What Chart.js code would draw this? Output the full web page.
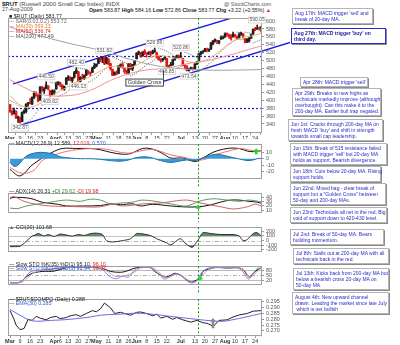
<!DOCTYPE html>
<html lang="en">
<head>
<meta charset="UTF-8" />
<title>$RUT Russell 2000 Small Cap Index</title>
<script src="https://cdn.jsdelivr.net/npm/chart.js"></script>
<style>
  body { margin: 0; background: #fff; font-family: 'Liberation Sans', Arial, sans-serif; }
  #wrap { position: relative; width: 400px; height: 345px; overflow: hidden; background: #fff; }
  canvas { position: absolute; left: 0; }
  .t { position: absolute; white-space: nowrap; font-size: 5.3px; line-height: 5px; color: #222; }
  .note { position: absolute; background: #fff; border: 1px solid #b4b4b4; box-shadow: 1px 1px 0 #8c8c8c;
          color: #2a2ac4; font-size: 5px; line-height: 6.1px; padding: 1px 2px; white-space: nowrap; box-sizing: border-box; }
  .red { color: #e02020; } .blue { color: #2a5ad0; } .grn { color: #2a8a2a; } .org { color: #e08020; }
</style>
</head>
<body>
<div id="wrap">
  <!-- header -->
  <div class="t" style="left:2px;top:1px;font-size:6px;line-height:6px;"><b>$RUT</b> <span style="color:#444">(Russell 2000 Small Cap Index) INDX</span></div>
  <div class="t" style="left:2px;top:7px;color:#444">27-Aug-2009</div>
  <div class="t" style="left:224px;top:2px;color:#555">@ StockCharts.com</div>
  <div class="t" style="left:89px;top:8px;"><b>Open</b> 583.87 <b>High</b> 584.16 <b>Low</b> 572.86 <b>Close</b> 583.77 <b>Chg</b> +3.22 (+0.55%) <span class="red">&#9650;</span></div>

  <canvas id="price" width="290" height="126" style="top:13px"></canvas>
  <canvas id="macd" width="290" height="49" style="top:139px"></canvas>
  <canvas id="adx" width="290" height="34" style="top:188px"></canvas>
  <canvas id="cci" width="290" height="39" style="top:222px"></canvas>
  <canvas id="sto" width="290" height="33" style="top:261px"></canvas>
  <canvas id="ratio" width="290" height="51" style="top:294px"></canvas>

  <!-- panel legends -->
  <div class="t" style="left:9px;top:14px;">&#9632; $RUT (Daily) 583.77</div>
  <div class="t" style="left:9px;top:19px;color:#666">&#8943; SAR(0.02,0.2) 553.72</div>
  <div class="t org" style="left:9px;top:24px;">&#8212; MA(20) 569.13</div>
  <div class="t red" style="left:9px;top:29px;">&#8212; MA(50) 536.74</div>
  <div class="t" style="left:9px;top:34px;color:#555">&#8212; MA(200) 477.49</div>

  <div class="t" style="left:9px;top:141px;">&#8212; MACD(12,26,9) 12.589, <span class="red">12.019</span>, <span class="blue">0.570</span></div>
  <div class="t" style="left:9px;top:189px;">&#8212; ADX(14) 26.31 <span class="grn">+DI 29.62</span> <span class="red">-DI 19.98</span></div>
  <div class="t" style="left:9px;top:225px;"><span class="grn">&#9650;</span> CCI(20) 101.68</div>
  <div class="t" style="left:9px;top:262px;">&#8212; Slow STO %K(35) %D(1) 95.10, <span class="red">96.10</span></div>
  <div class="t blue" style="left:9px;top:266px;">&#8212; Slow STO %K(14) %D(3) 91.94, <span class="red">96.37</span></div>
  <div class="t" style="left:9px;top:297px;">&#8212; $RUT:$COMPQ (Daily) 0.288</div>
  <div class="t blue" style="left:9px;top:301px;">&#8212; EMA(30) 0.285</div>

  <!-- commentary boxes -->
  <div class="note" style="left:292px;top:8px;width:81px;">Aug 17th: MACD trigger 'sell' and<br>break of 20-day MA.</div>
  <div class="note" style="left:291px;top:28px;width:95px;border-color:#2a2ad0;color:#1a1a9a;font-weight:bold;">Aug 27th: MACD trigger 'buy' on<br>third day.</div>
  <div class="note" style="left:300px;top:77px;width:68px;">Apr 28th: MACD trigger 'sell'</div>
  <div class="note" style="left:292px;top:88px;width:89px;">Apr 29th: Breaks to new highs as<br>technicals markedly improve (although<br>overbought). Can this make it to the<br>200-day MA. Earlier bull trap negated.</div>
  <div class="note" style="left:288px;top:119px;width:95px;">Jun 1st: Cracks through 200-day MA on<br>fresh MACD 'buy' and shift in strength<br>towards small cap leadership.</div>
  <div class="note" style="left:290px;top:143px;width:97px;">Jun 15th: Break of 515 resistance failed<br>with MACD trigger 'sell' but 20-day MA<br>holds as support. Bearish divergence.</div>
  <div class="note" style="left:290px;top:166px;width:91px;">Jun 18th: Cuts below 20-day MA. Rising<br>support holds.</div>
  <div class="note" style="left:290px;top:183px;width:96px;">Jun 22nd: Mixed bag - clear break of<br>support but a "Golden Cross" between<br>50-day and 200-day MAs.</div>
  <div class="note" style="left:290px;top:207px;width:97px;">Jun 23rd: Technicals all net in the red. Big<br>void of support down to 420-430 level.</div>
  <div class="note" style="left:290px;top:229px;width:94px;">Jul 2nd: Break of 50-day MA. Bears<br>building momentum.</div>
  <div class="note" style="left:293px;top:248px;width:96px;">Jul 8th: Stalls out at 200-day MA with all<br>technicals back in the red.</div>
  <div class="note" style="left:293px;top:268px;width:96px;">Jul 13th: Kicks back from 200-day MA but<br>below a bearish cross 20-day MA on<br>50-day MA.</div>
  <div class="note" style="left:292px;top:292px;width:97px;">August 4th: New upward channel<br>drawn. Leading the market since late July<br>&nbsp;which is net bullish</div>
</div>

<script>
// ---- date axis (trading-day index, Mar 2 2009 = 0) ----
const dateTickIdx  = [0, 5, 10, 15, 22, 25, 29, 34, 39, 43, 49, 54, 59, 63, 68, 73, 78, 85, 92, 97, 102, 107, 112, 117, 122];
const dateTickText = ['Mar','9','16','23','Apr','6','13','20','27','May','11','18','26','Jun','8','15','22','Jul','13','20','27','Aug','10','17','24'];

// ---- $RUT daily OHLC ----
const opens = [389,372,366,372,356,354,346,370,372,391, 394,391,407,418,412,400,433,424,430,436,
  425,414,420,428,442,444,438,428,440,455, 457,450,458,470,472,448,457,456,464,472,
  468,470,482,487,493,505,505,508,495,503, 492,478,465,470,468,487,490,480,472,469,
  490,480,491,505,518,520,512,524,517,518, 522,518,523,520,509,502,502,506,505,486,
  488,490,502,510,512,510,505,487,486,475, 480,482,480,492,500,517,522,524,530,526,
  530,543,550,550,546,556,556,560,566,565, 563,560,565,560,556,567,568,555,547,550,
  557,568,580,580,581,583.87];
const highs = [389,375,380,373,360,358,370,376,391,395, 404,408,422,421,416,434,435,432,446.5,437,
  425,426,426,446,447,446,439,436,457,462, 460,458,473,482.4,473,460,466,464,478,475,
  472,484,494,492,507,507,510,511.8,509,506, 494,479,472,474,487,492,495,481,476,493,
  493,491,501,520,524,521,522,528,520,523, 524,527,531.7,521,512,505,506,510,506,488,
  496,504,510,514,515,520.9,506,488,487,480, 484,483,492,498,518,523,524,531,532,530,
  546,551,555,552,551,563,562,570,570,567, 566,572,567,562,570,572,569,556,556,558,
  567,580,584,590.05,585,584.2];
const lows = [369,362,365,354,344,342.6,346,366,368,385, 391,389,404,410,396,400,422,417,429,426,
  409.8,413,414,428,438,434,426,425,440,450, 449,445,456,467,446.1,446,454,452,462,466,
  462,470,480,484,492,497,495,490,492,490, 476,462,463,464,468,483,481,468,467,466,
  478,475,488,504,515,508,511,515,509,515, 511,517,521,507,501,496,498,503,485,481,
  487,488,501,506,505,509,488,480,474,473.5, 478,476,477,490,500,514,518,523,522,523,
  528,540,547,543,542,553,555,559,562,556, 552,560,559,553,555,564,557,545,546,547,
  556,566,576,579,577,572.86];
const closes = [371,364,375,355,355,343,370,373,390,393, 392,408,418,412,398,434,424,428,438,428,
  412,423,424,443,446,440,427,435,456,459, 451,457,470,476,449,458,455,463,476,469,
  467,481,487,491,506,502,507,492,507,492, 480,463,470,466,487,488,483,472,471,492,
  478,490,501,519,522,511,522,519,517,520, 517,523,525,509,502,501,504,508,486,485,
  490,503,509,512,508,509,488,487,475,479, 482,478,492,497,518,522,522,529,528,528,
  545,550,553,549,550,556,557,568,566,562, 556,567,563,555,566,570,561,546,554,557,
  566,580,578,582,580.55,583.77];

// parabolic SAR
const sar = [400,397,394,391,388,385,null,343,344,346, 350,355,361,368,375,380,387,393,398,404,
  446,445,444,443,410,412,414,417,420,424, 428,432,436,441,482,481,480,479,478,446,
  448,451,454,458,462,467,472,477,482,486, 512,510,508,505,503,500,498,496,494,492,
  462,464,466,469,474,478,482,486,490,493, 496,499,502,506,531.7,530,528,526,524,520,
  517,514,511,481,483,485,487,521,520,518, 515,513,510,508,473.5,476,480,484,488,492,
  496,501,507,513,518,523,528,532,537,541, 545,549,552,572,571,553,554,572,571,570,
  569,545,547,549,551,553.7];

// moving averages (sampled)
const ma20Idx = [0,5,10,16,22,28,34,40,45,50,55,60,65,70,75,80,85,90,95,100,105,110,115,120,125];
const ma20 = [412,388,382,395,415,432,448,460,474,485,484,483,494,508,513,508,504,496,497,508,527,546,558,562,569.13];
const ma50Idx = [0,8,16,30,40,50,60,70,76,90,100,110,120,125];
const ma50 = [452,430,414,412,425,450,468,478,479,494,502,515,530,536.74];
const ma200Idx = [0,10,20,30,40,47,60,70,80,90,100,110,125];
const ma200 = [585,570,556,543,532,523,503,490,482,478,476,476,477.49];

// price labels
const noteIdx  = [5, 20, 18, 33, 34, 47, 72, 85, 78, 89, 123];
const noteVal  = [342.6, 409.8, 446.5, 482.4, 446.1, 511.8, 531.7, 520.9, 485, 473.5, 590.05];
const noteText = ['342.87','409.82','446.50','482.40','446.13','531.82','526.86','520.86','466.85','473.54','590.05'];
const noteSide = [-1, -1, 1, 1, -1, 1, 1, 1, -1, -1, 1];

// trend channel + resistance / support
const chanUpIdx = [1.5, 125.4], chanUp = [441.2, 630.9];
const chanLoIdx = [5, 140], chanLo = [336.6, 546.7];
const levels = [513, 380];

// MACD (sampled)
const macdIdx = [0,5,11,16,21,26,33,40,45,50,56,60,66,71,76,80,86,92,96,101,108,114,118,121,125];
const macd    = [-17,-27,-10,1,10,16,16,16,14,10,7,8,16,15,8,1,1,-4.4,1,10,16,16,12,11,12.6];
const sigIdx  = [0,6,12,16,24,33,42,48,55,60,66,72,80,87,92,97,102,110,115,120,125];
const signal  = [-13.8,-23,-18,-3,8,14,16,15,10,9,13,14,6,2,-2,-1,6,13,16,13,12];
const histIdx = [0,2,4,6,8,11,15,19,22,25,30,35,40,45,50,55,59,62,66,70,72,75,80,84,88,92,95,98,103,108,112,115,118,121,123,125];
const hist    = [-6,-12,-10,-3,4,8,10,9,7,3,1,0,0,-1,-3,-4,-2,1,3,2,0,-3,-6,-4,-2,-3,0,4,7,4,1,-1,-3,-2,0,0.6];

// ADX / DI (sampled)
const adxIdx = [0,2,10,16,24,28,36,45,50,55,61,65,71,80,86,94,101,108,114,119,123,125];
const adx    = [38,40.5,38,29,24,20,20,21,25,23,25,20,24,20,18,18,24,33,34,31,29,26.31];
const mdiIdx = [0,2,7,13,20,28,36,45,51,56,61,66,75,81,88,94,98,105,111,118,122,125];
const mdi    = [40,42,31,24,20,19,18,18,24,20,22,25,27,31,34,28,24,18,13,18,24,19.98];
const pdiIdx = [0,4,8,20,28,35,40,45,50,55,61,66,75,81,88,94,101,108,114,119,125];
const pdi    = [15,14,20,29,34,31,36,34,25,27,29,34,29,24,20,31,37,34,31,34,29.62];

// CCI (sampled)
const cciIdx = [0,2,5,8,11,12,14,17,19,22,25,28,31,34,37,40,43,46,48,51,56,60,63,65,70,73,78,80,83,85,87,90,91,94,96,100,105,111,114,116,118,121,123,125];
const cci    = [-130,-130,-120,-20,100,110,150,100,130,90,140,120,95,130,110,150,160,130,0,-30,0,40,150,150,107,40,-50,-93,0,40,-50,-140,-140,40,170,150,130,130,100,0,20,150,170,101.68];

// Slow stochastics (sampled)
const stoKIdx = [0,5,8,11,16,22,28,35,42,46,48,50,55,58,63,70,72,75,77,80,82,85,87,90,92,95,96,100,103,108,113,116,118,119,122,125];
const stoK    = [7,10,40,62,73,75,95,98,97,90,83,73,68,75,95,95,73,51,40,51,62,51,29,12,18,40,73,90,98,93,95,84,51,40,73,95.1];
const stoFIdx = [0,5,7,10,14,20,28,35,42,46,48,50,53,56,59,62,65,70,72,75,77,80,83,86,89,91,93,95,98,102,108,113,116,118,119,121,123,125];
const stoF    = [5,8,30,70,80,85,97,95,98,85,60,40,30,45,40,80,97,95,80,45,28,45,60,40,10,5,20,60,90,97,92,96,70,35,28,60,90,91.94];
const stoDIdx = [0,5,8,11,15,28,42,46,49,52,55,58,62,65,71,74,76,79,82,86,89,92,95,98,102,110,114,117,119,121,124,125];
const stoD    = [6,9,25,60,78,96,97,88,70,45,45,50,70,93,94,70,45,38,55,45,20,10,40,78,95,94,95,75,40,50,85,96.1];

// $RUT:$COMPQ ratio (sampled)
const ratioIdx = [0,2,3,5,7,9,11,13,15,18,20,23,25,28,30,33,35,38,41,43,45,47,50,52,55,58,60,63,65,68,71,73,75,78,81,83,86,88,90,93,96,98,100,101,104,108,111,114,118,121,125];
const ratio    = [.2875,.280,.275,.271,.272,.280,.279,.2825,.281,.2795,.2815,.2825,.2805,.2815,.283,.284,.2825,.285,.2875,.2865,.289,.294,.290,.285,.286,.2845,.2835,.286,.2863,.285,.283,.2845,.281,.2825,.280,.2815,.2795,.2785,.2775,.279,.277,.2765,.275,.2735,.279,.2795,.282,.2837,.285,.287,.2875];
const emaIdx = [0,5,11,20,30,40,45,55,63,70,80,90,100,106,112,120,125];
const ema    = [.2885,.2835,.2787,.2790,.2800,.2820,.2835,.2845,.2852,.2845,.2825,.2805,.2787,.2783,.2800,.2830,.2850];

// markers
const markerIdx = 93.6;
const goldenIdx = 76, goldenVal = 475;

// ---- axis ticks ----
const priceTicks = [600,580,560,540,520,500,480,460,440,420,400,380,360,340];
const macdTicks = [10, 0, -10, -20];
const adxTicks = [40, 30, 20, 10];
const cciTicks = [200, 100, 0, -100, -200];
const stoTicks = [80, 50, 20];
const ratioTicks = [0.295, 0.290, 0.285, 0.280, 0.275, 0.270];

const X_MIN = -1, X_MAX = 125.4;

Chart.defaults.font.family = "'Liberation Sans', Arial, sans-serif";
Chart.defaults.font.size = 5.5;
Chart.defaults.color = '#444';
Chart.defaults.animation = false;
Chart.defaults.responsive = false;
Chart.defaults.plugins.legend.display = false;
Chart.defaults.plugins.tooltip.enabled = false;
Chart.defaults.elements.point.radius = 0;
Chart.defaults.elements.line.borderWidth = 1;

const pts = (idx, vals) => idx.map((x, k) => ({ x, y: vals[k] }));

function drawArrow(ctx, x, y0, y1, color) {
  const dir = y1 < y0 ? -1 : 1, head = 3.5, hw = 3, sw = 1.3;
  ctx.fillStyle = color;
  ctx.beginPath();
  ctx.moveTo(x - sw, y0);
  ctx.lineTo(x - sw, y1 - dir * head);
  ctx.lineTo(x - hw, y1 - dir * head);
  ctx.lineTo(x, y1);
  ctx.lineTo(x + hw, y1 - dir * head);
  ctx.lineTo(x + sw, y1 - dir * head);
  ctx.lineTo(x + sw, y0);
  ctx.closePath();
  ctx.fill();
}

const deco = {
  id: 'deco',
  beforeDatasetsDraw(chart, args, o) {
    const { ctx, chartArea: a, scales: { y } } = chart;
    ctx.save();
    (o.hlines || []).forEach(h => {
      const py = Math.round(y.getPixelForValue(h.v)) + 0.5;
      ctx.strokeStyle = h.color; ctx.lineWidth = h.w || 1; ctx.setLineDash(h.dash || []);
      ctx.beginPath(); ctx.moveTo(a.left, py); ctx.lineTo(a.right, py); ctx.stroke();
    });
    ctx.restore();
  },
  afterDatasetsDraw(chart, args, o) {
    const { ctx, chartArea: a, scales: { x, y } } = chart;
    ctx.save();
    // frame
    ctx.strokeStyle = '#a0a0a0'; ctx.lineWidth = 1;
    ctx.strokeRect(Math.round(a.left) + 0.5, Math.round(a.top) + 0.5, Math.round(a.width) - 1, Math.round(a.height) - 1);
    // price labels
    if (o.notes) {
      ctx.font = "5px 'Liberation Sans', Arial";
      ctx.textAlign = 'center'; ctx.textBaseline = 'middle';
      noteIdx.forEach((ix, k) => {
        const t = noteText[k], w = ctx.measureText(t).width + 2;
        const px = x.getPixelForValue(ix), py = y.getPixelForValue(noteVal[k]) + (noteSide[k] > 0 ? -5 : 5);
        ctx.fillStyle = '#fff'; ctx.fillRect(px - w / 2, py - 3, w, 6);
        ctx.strokeStyle = '#c4c4c4'; ctx.lineWidth = 0.6; ctx.strokeRect(px - w / 2, py - 3, w, 6);
        ctx.fillStyle = '#555'; ctx.fillText(t, px, py);
      });
      // golden cross callout
      const gx = Math.round(x.getPixelForValue(goldenIdx)) + 0.5, gy = y.getPixelForValue(goldenVal);
      ctx.strokeStyle = '#444'; ctx.lineWidth = 1;
      ctx.beginPath(); ctx.moveTo(gx, gy); ctx.lineTo(gx, gy + 8); ctx.stroke();
      ctx.font = "5.5px 'Liberation Sans', Arial";
      const gw = ctx.measureText('Golden Cross').width + 4;
      ctx.fillStyle = '#fff'; ctx.fillRect(gx - gw, gy + 8, gw, 7);
      ctx.strokeRect(gx - gw, gy + 8.5, gw, 7);
      ctx.fillStyle = '#333'; ctx.textAlign = 'left';
      ctx.fillText('Golden Cross', gx - gw + 2, gy + 12);
    }
    // vertical marker
    const vx = Math.round(x.getPixelForValue(markerIdx)) + 0.5;
    ctx.strokeStyle = '#109a10'; ctx.lineWidth = 1; ctx.setLineDash([2, 2]);
    ctx.beginPath(); ctx.moveTo(vx, a.top); ctx.lineTo(vx, o.toBottom ? chart.height : a.bottom); ctx.stroke();
    ctx.setLineDash([]);
    (o.arrows || []).forEach(ar => drawArrow(ctx, x.getPixelForValue(ar.x), y.getPixelForValue(ar.from), y.getPixelForValue(ar.to), ar.color));
    ctx.restore();
  }
};
Chart.register(deco);

function yAxis(min, max, ticks, fmt) {
  return {
    type: 'linear', position: 'right', min, max,
    afterFit: s => { s.width = 28; },
    afterBuildTicks: s => { s.ticks = ticks.map(v => ({ value: v })); },
    ticks: { autoSkip: false, padding: 2, color: '#555', callback: v => fmt ? fmt(v) : v },
    grid: { drawOnChartArea: false, tickLength: 2, color: '#999' },
    border: { display: false }
  };
}
function xAxis(show) {
  return {
    type: 'linear', min: X_MIN, max: X_MAX, offset: false, display: show,
    afterFit: s => { s.height = show === 'top' ? 6 : 9; },
    afterBuildTicks: s => { s.ticks = dateTickIdx.map(v => ({ value: v })); },
    ticks: {
      autoSkip: false, maxRotation: 0, padding: 0, color: '#333',
      callback: v => dateTickText[dateTickIdx.indexOf(v)],
      font: c => ({ size: 5.5, weight: /^[A-Z]/.test(dateTickText[c.index] || '') ? 'bold' : 'normal' })
    },
    grid: { drawOnChartArea: false, tickLength: 2, color: '#999' },
    border: { display: false }
  };
}
const layout = { padding: { left: 8, right: 0, top: 0, bottom: 0 } };
const smooth = (label, idx, vals, color, extra) => Object.assign({ type: 'line', label, data: pts(idx, vals), borderColor: color, tension: 0.35 }, extra || {});

// ---- price panel ----
const candleColor = closes.map((c, i) => c < (i ? closes[i - 1] : opens[0]) ? '#e01818' : '#202020');
const days = closes.map((c, i) => i);
new Chart(document.getElementById('price'), {
  type: 'bar',
  data: { datasets: [
    { label: 'MA200', type: 'line', data: pts(ma200Idx, ma200), borderColor: '#a0a0a0', tension: 0.4 },
    { label: 'MA50', type: 'line', data: pts(ma50Idx, ma50), borderColor: '#f29090', tension: 0.4 },
    { label: 'MA20', type: 'line', data: pts(ma20Idx, ma20), borderColor: '#edb070', tension: 0.4 },
    { label: 'SAR', type: 'line', data: pts(days, sar), showLine: false, pointRadius: 0.6, pointBackgroundColor: '#777', pointBorderWidth: 0 },
    { label: 'range', data: days.map(i => ({ x: i, y: [lows[i], highs[i]] })), backgroundColor: candleColor, barThickness: 1, grouped: false },
    { label: 'body', data: days.map(i => ({ x: i, y: [opens[i], closes[i]] })), backgroundColor: candleColor, barThickness: 2, minBarLength: 1, grouped: false },
    { label: 'chanUp', type: 'line', data: pts(chanUpIdx, chanUp), borderColor: '#1a1ae0', borderWidth: 1.4 },
    { label: 'chanLo', type: 'line', data: pts(chanLoIdx, chanLo), borderColor: '#1a1ae0', borderWidth: 1.4, clip: false }
  ] },
  options: {
    layout,
    scales: { x: xAxis('top'), y: yAxis(317.25, 607, priceTicks) },
    plugins: { deco: { notes: true, toBottom: true,
      hlines: levels.map(v => ({ v, color: '#2020e0', w: 1.2, dash: [2, 2] })) } }
  }
});

// ---- MACD ----
new Chart(document.getElementById('macd'), {
  type: 'line',
  data: { datasets: [
    smooth('hist', histIdx, hist, '#1f6fa8', { fill: 'origin', backgroundColor: '#3d9ad6', tension: 0.3 }),
    smooth('signal', sigIdx, signal, '#f07070'),
    smooth('macd', macdIdx, macd, '#111')
  ] },
  options: {
    layout,
    scales: { x: xAxis(false), y: yAxis(-31.9, 22.6, macdTicks) },
    plugins: { deco: { toBottom: true, arrows: [{ x: 122.5, from: 7, to: 16.5, color: '#18e018' }] } }
  }
});

// ---- ADX ----
new Chart(document.getElementById('adx'), {
  type: 'line',
  data: { datasets: [
    smooth('+DI', pdiIdx, pdi, '#5a9a5a'),
    smooth('-DI', mdiIdx, mdi, '#d06060'),
    smooth('ADX', adxIdx, adx, '#111')
  ] },
  options: {
    layout,
    scales: { x: xAxis(false), y: yAxis(3.4, 50, adxTicks) },
    plugins: { deco: { toBottom: true, arrows: [{ x: 93.6, from: 13, to: 23, color: '#18e018' }] } }
  }
});

// ---- CCI ----
new Chart(document.getElementById('cci'), {
  type: 'line',
  data: { datasets: [
    smooth('cciHi', cciIdx, cci, '#333', { fill: { target: { value: 100 }, above: '#5e8f5e', below: 'rgba(0,0,0,0)' }, tension: 0.3 }),
    smooth('cciLo', cciIdx, cci, 'rgba(0,0,0,0)', { borderWidth: 0, fill: { target: { value: -100 }, above: 'rgba(0,0,0,0)', below: '#8e4e4e' }, tension: 0.3 })
  ] },
  options: {
    layout,
    scales: { x: xAxis(false), y: yAxis(-246, 286, cciTicks) },
    plugins: { deco: { toBottom: true, hlines: [
      { v: 100, color: '#c4c4c4' }, { v: -100, color: '#c4c4c4' }, { v: 0, color: '#b0b0b0', dash: [4, 2, 1, 2] }] } }
  }
});

// ---- Slow STO ----
new Chart(document.getElementById('sto'), {
  type: 'line',
  data: { datasets: [
    smooth('%K14', stoFIdx, stoF, '#7a8ae8'),
    smooth('%D', stoDIdx, stoD, '#f09090'),
    smooth('%K35', stoKIdx, stoK, '#111')
  ] },
  options: {
    layout,
    scales: { x: xAxis(false), y: yAxis(-6.7, 103.3, stoTicks) },
    plugins: { deco: { toBottom: true, arrows: [{ x: 94.6, from: 23, to: 47, color: '#18e018' }], hlines: [
      { v: 80, color: '#b8b8b8' }, { v: 20, color: '#b8b8b8' }, { v: 50, color: '#b0b0b0', dash: [4, 2, 1, 2] }] } }
  }
});

// ---- $RUT:$COMPQ ----
new Chart(document.getElementById('ratio'), {
  type: 'line',
  data: { datasets: [
    smooth('EMA30', emaIdx, ema, '#6a6ae0', { tension: 0.4 }),
    smooth('ratio', ratioIdx, ratio, '#222', { tension: 0 })
  ] },
  options: {
    layout,
    scales: { x: xAxis('bottom'), y: yAxis(0.2655, 0.2973, ratioTicks, v => v.toFixed(3)) },
    plugins: { deco: { arrows: [{ x: 101, from: 0.2722, to: 0.2812, color: '#8a8a8a' }] } }
  }
});
</script>
</body>
</html>
